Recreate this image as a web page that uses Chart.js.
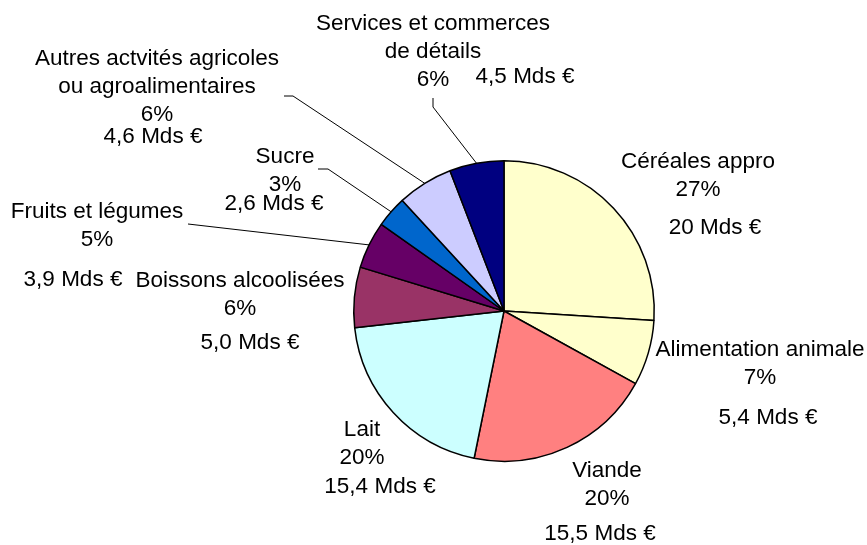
<!DOCTYPE html>
<html>
<head>
<meta charset="utf-8">
<script src="https://cdn.jsdelivr.net/npm/chart.js@4.4.1/dist/chart.umd.min.js"></script>
<style>
  html, body { margin: 0; padding: 0; background: #fff; }
  #wrap { width: 867px; height: 545px; position: relative; }
</style>
</head>
<body>
<div id="wrap"><canvas id="pieChart"></canvas></div>
<script>
// data
const categories = ['Céréales appro', 'Alimentation animale', 'Viande', 'Lait', 'Boissons alcoolisées',
  'Fruits et légumes', 'Sucre', 'Autres actvités agricoles ou agroalimentaires', 'Services et commerces de détails'];
const amounts = [20, 5.4, 15.5, 15.4, 5.0, 3.9, 2.6, 4.6, 4.5];   // Mds €
const percents = [27, 7, 20, 20, 6, 5, 3, 6, 6];
const amountText = ['20', '5,4', '15,5', '15,4', '5,0', '3,9', '2,6', '4,6', '4,5'];

// slice colours (old Excel palette)
const colors = ['#FFFFCC', '#FFFFCC', '#FF8080', '#CCFFFF', '#993366', '#660066', '#0066CC', '#CCCCFF', '#000080'];

// label layout, in px from the pie centre
// name: wrapped lines, nx/ny = centre of first line; vx/vy = amount label; lead = leader line start points
const labelLayout = [
  { lines: ['Céréales appro'], nx: 194, ny: -149, vx: 211, vy: -83 },
  { lines: ['Alimentation animale'], nx: 256, ny: 39, vx: 264, vy: 107 },
  { lines: ['Viande'], nx: 103, ny: 160, vx: 96, vy: 223 },
  { lines: ['Lait'], nx: -142, ny: 119, vx: -124, vy: 176 },
  { lines: ['Boissons alcoolisées'], nx: -264, ny: -30, vx: -254, vy: 32 },
  { lines: ['Fruits et légumes'], nx: -407, ny: -99, vx: -431, vy: -31, lead: [[-316, -87]] },
  { lines: ['Sucre'], nx: -219, ny: -154, vx: -230, vy: -107, lead: [[-186, -142], [-176, -142]] },
  { lines: ['Autres actvités agricoles', 'ou agroalimentaires'], nx: -347, ny: -252, vx: -351, vy: -174, lead: [[-220, -215], [-211, -215]] },
  { lines: ['Services et commerces', 'de détails'], nx: -71, ny: -287, vx: 21, vy: -234, lead: [[-71, -213], [-71, -204]] }
];
const lineGap = 28;

const pieLabels = {
  id: 'pieLabels',
  afterDraw(chart) {
    const ctx = chart.ctx;
    const arcs = chart.getDatasetMeta(0).data;
    ctx.save();
    ctx.font = '22.5px "Liberation Sans", Arial, sans-serif';
    ctx.fillStyle = '#000';
    ctx.textAlign = 'center';
    ctx.textBaseline = 'middle';
    arcs.forEach((arc, i) => {
      const L = labelLayout[i];
      const cx = arc.x, cy = arc.y;
      const lines = L.lines.concat([percents[i] + '%']);
      lines.forEach((t, k) => ctx.fillText(t, cx + L.nx, cy + L.ny + k * lineGap));
      ctx.fillText(amountText[i] + ' Mds €', cx + L.vx, cy + L.vy);
      if (L.lead) {
        const mid = (arc.startAngle + arc.endAngle) / 2;
        ctx.beginPath();
        ctx.strokeStyle = '#000';
        ctx.lineWidth = 1;
        L.lead.forEach((p, k) => {
          if (k === 0) ctx.moveTo(cx + p[0], cy + p[1]);
          else ctx.lineTo(cx + p[0], cy + p[1]);
        });
        ctx.lineTo(cx + Math.cos(mid) * arc.outerRadius, cy + Math.sin(mid) * arc.outerRadius);
        ctx.stroke();
      }
    });
    ctx.restore();
  }
};

const ctx = document.getElementById('pieChart').getContext('2d');
new Chart(ctx, {
  type: 'pie',
  data: {
    labels: categories,
    datasets: [{
      data: amounts,
      backgroundColor: colors,
      borderColor: '#000',
      borderWidth: 1.5
    }]
  },
  options: {
    responsive: true,
    maintainAspectRatio: false,
    animation: false,
    layout: { padding: { left: 353, right: 212, top: 160, bottom: 83 } },
    plugins: {
      legend: { display: false },
      tooltip: { enabled: false }
    }
  },
  plugins: [pieLabels]
});
</script>
</body>
</html>
